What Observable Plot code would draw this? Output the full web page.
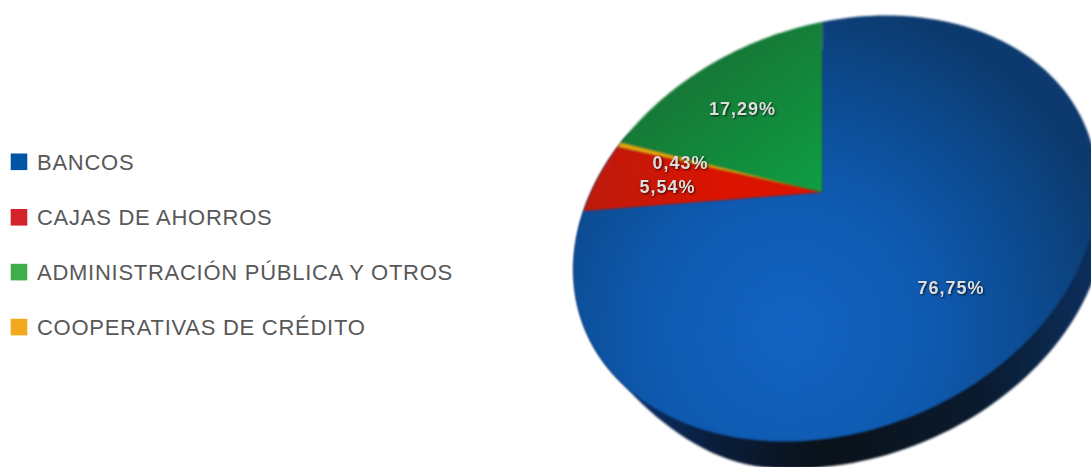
<!DOCTYPE html>
<html><head><meta charset="utf-8">
<script src="https://cdn.jsdelivr.net/npm/d3@7"></script>
<script src="https://cdn.jsdelivr.net/npm/@observablehq/plot@0.6"></script>
<style>
html,body{margin:0;padding:0;background:#fff}
svg{display:block}
</style></head><body><div id="chart"></div>
<script>
// slices run counter-clockwise from the top
const legendNames = ["BANCOS","CAJAS DE AHORROS","ADMINISTRACIÓN PÚBLICA Y OTROS","COOPERATIVAS DE CRÉDITO"];
const legendColors = ["#0054a6","#d2232a","#3fae49","#f2a91f"];
const sliceNames = ["ADMINISTRACIÓN PÚBLICA Y OTROS","COOPERATIVAS DE CRÉDITO","CAJAS DE AHORROS","BANCOS"];
const sliceValues = [17.29,0.43,5.54,76.75];
const sliceLabels = ["17,29%","0,43%","5,54%","76,75%"];
const sliceFills = ["url(#gGreen)","#e5a60a","url(#gRed)","url(#gBlue)"];

// picture geometry of the tilted disc
const cx=835, cy=228, ax=262, bx=-41.2, by=209, apexX=822, apexY=192, topX=822, topY=22;
const sideDX=8, sideDY=27;
const toImg=(u,v)=>[cx+ax*u, cy+bx*u+by*v];
const fromImg=(x,y)=>{const u=(x-cx)/ax; return [u,(y-cy-bx*u)/by];};
const [pu,pv]=fromImg(apexX,apexY);
const pr=Math.hypot(pu,pv), qs=1/(1+Math.sqrt(1-pr*pr)), qu=pu*qs, qv=pv*qs;
const cmul=(a,b)=>[a[0]*b[0]-a[1]*b[1],a[0]*b[1]+a[1]*b[0]];
const cdiv=(a,b)=>{const m=b[0]*b[0]+b[1]*b[1];return [(a[0]*b[0]+a[1]*b[1])/m,(a[1]*b[0]-a[0]*b[1])/m];};
const [wu,wv]=fromImg(topX,topY), wr=Math.hypot(wu,wv), w0=[wu/wr,wv/wr];
const z0=cdiv([w0[0]-qu,w0[1]-qv],[1-(qu*w0[0]+qv*w0[1]),-(qu*w0[1]-qv*w0[0])]);
function rim(share){
  const a=-2*Math.PI*share, z=cmul(z0,[Math.cos(a),Math.sin(a)]);
  const w=cdiv([z[0]+qu,z[1]+qv],[1+(qu*z[0]+qv*z[1]),qu*z[1]-qv*z[0]]);
  return toImg(w[0],w[1]);
}
let cum=0; const slicePts=[];
sliceValues.forEach((v,i)=>{
  const s0=cum/100, s1=(cum+v)/100; cum+=v;
  const n=Math.max(2,Math.ceil(v*4));
  slicePts.push({s:i,x:apexX,y:apexY});
  for(let k=0;k<=n;k++){const [x,y]=rim(s0+(s1-s0)*k/n); slicePts.push({s:i,x,y});}
});
// the rim's thickness fades out towards the left end of the visible side
const sidePts=d3.range(0,361,2).map(d=>{
  const [x,y]=toImg(Math.cos(d*Math.PI/180),Math.sin(d*Math.PI/180));
  const f=Math.max(0,Math.min(1,(x-625)/130)), g=Math.sin(f*Math.PI/2);
  return {x:x+sideDX*g,y:y+sideDY*g};
});
const pctAt=[[742,109],[680,163],[667,187],[950.5,288]];
const pctRows=sliceLabels.map((t,i)=>({t,x:pctAt[i][0],y:pctAt[i][1]}));
const legRows=legendNames.map((n,i)=>({n,c:legendColors[i],y:161.8+[0,55.5,110.3,165.3][i]}));

const plot=Plot.plot({
  width:1091,height:467,margin:0,
  x:{domain:[0,1091],range:[0,1091],axis:null},
  y:{domain:[0,467],range:[0,467],axis:null},
  color:{type:"identity"},
  marks:[
    Plot.line(sidePts,{x:"x",y:"y",fill:"url(#gSide)",stroke:"none"}),
    Plot.line(slicePts,{x:"x",y:"y",z:"s",fill:d=>sliceFills[d.s],stroke:"none"}),
    Plot.text(pctRows,{x:"x",y:"y",text:"t",fill:"#dedede",fontSize:18,fontWeight:"bold",fontFamily:"Liberation Sans"}),
    Plot.rect(legRows,{x1:()=>10.7,x2:()=>27.3,y1:d=>d.y-8.3,y2:d=>d.y+8.3,fill:"c"}),
    Plot.text(legRows,{x:()=>36.5,y:d=>d.y+0.5,text:"n",textAnchor:"start",fill:"#585858",fontSize:22,fontFamily:"Liberation Sans"})
  ]
});
const ns="http://www.w3.org/2000/svg";
const defs=document.createElementNS(ns,"defs");
defs.innerHTML=`
<radialGradient id="gBlue" gradientUnits="userSpaceOnUse" cx="790" cy="330" r="335">
 <stop offset="0" stop-color="#1263c2"/><stop offset=".4" stop-color="#0f5bb2"/>
 <stop offset=".7" stop-color="#0c4c93"/><stop offset="1" stop-color="#0c3a6e"/></radialGradient>
<linearGradient id="gGreen" gradientUnits="userSpaceOnUse" x1="710" y1="50" x2="810" y2="190">
 <stop offset="0" stop-color="#167636"/><stop offset="1" stop-color="#0f9c42"/></linearGradient>
<linearGradient id="gRed" gradientUnits="userSpaceOnUse" x1="585" y1="190" x2="720" y2="190">
 <stop offset="0" stop-color="#bd1a0c"/><stop offset="1" stop-color="#da1400"/></linearGradient>
<linearGradient id="gSide" gradientUnits="userSpaceOnUse" x1="630" y1="0" x2="1091" y2="0">
 <stop offset="0" stop-color="#0a2f66"/><stop offset=".2" stop-color="#0a1c38"/>
 <stop offset=".42" stop-color="#0a1219"/><stop offset=".75" stop-color="#0a1a2e"/>
 <stop offset="1" stop-color="#0c2e5c"/></linearGradient>`;
plot.prepend(defs);
const groups=plot.querySelectorAll(":scope > g");
groups[0].style.filter="blur(1px)";
groups[1].style.filter="blur(1px)";
groups[2].style.filter="drop-shadow(1px 1.5px 1px rgba(0,0,0,.7)) blur(.7px)";
groups[2].style.letterSpacing="1px";
groups[4].style.letterSpacing=".73px";
document.getElementById("chart").append(plot);
</script></body></html>
